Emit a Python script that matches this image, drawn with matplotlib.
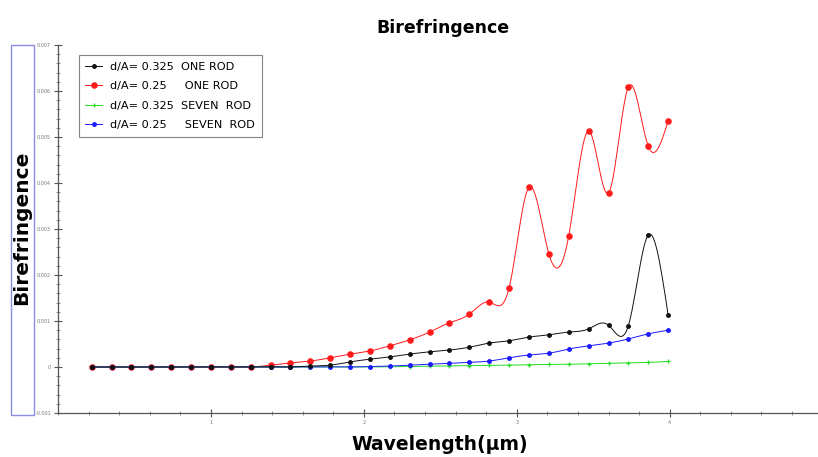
import numpy as np
import matplotlib.pyplot as plt
from matplotlib.patches import Rectangle
from matplotlib.ticker import AutoMinorLocator

# wavelength (um) of the sampled points
wavelength = [0.22, 0.35, 0.48, 0.61, 0.74, 0.87, 1.00, 1.13, 1.26, 1.39,
              1.52, 1.65, 1.78, 1.91, 2.04, 2.17, 2.30, 2.43, 2.56, 2.69,
              2.82, 2.95, 3.08, 3.21, 3.34, 3.47, 3.60, 3.73, 3.86, 3.99]

# birefringence, in units of 1e-3
one_rod_0325 = [0, 0, 0, 0, 0, 0, 0, 0, 0, 0,
                0, 0.02, 0.04, 0.11, 0.17, 0.22, 0.28, 0.33, 0.37, 0.43,
                0.52, 0.57, 0.65, 0.70, 0.76, 0.83, 0.91, 0.90, 2.87, 1.13]
one_rod_025 = [0, 0, 0, 0, 0, 0, 0, 0, 0, 0.04,
               0.09, 0.13, 0.20, 0.28, 0.35, 0.46, 0.59, 0.76, 0.96, 1.15,
               1.41, 1.72, 3.91, 2.46, 2.85, 5.13, 3.78, 6.09, 4.80, 5.35]
seven_rod_0325 = [0, 0, 0, 0, 0, 0, 0, 0, 0, 0,
                  0, 0, 0, 0, 0, 0.005, 0.01, 0.015, 0.02, 0.03,
                  0.035, 0.04, 0.05, 0.055, 0.06, 0.07, 0.08, 0.09, 0.10, 0.12]
seven_rod_025 = [0, 0, 0, 0, 0, 0, 0, 0, 0, 0,
                 0, 0, 0, 0, 0.01, 0.02, 0.04, 0.06, 0.08, 0.10,
                 0.13, 0.20, 0.26, 0.30, 0.39, 0.46, 0.52, 0.61, 0.72, 0.80]

labels = ['d/A= 0.325  ONE ROD', 'd/A= 0.25     ONE ROD',
          'd/A= 0.325  SEVEN  ROD', 'd/A= 0.25     SEVEN  ROD']


def spline(x, y, n=400):
    # natural cubic spline, only used to draw the smooth connecting line
    x = np.asarray(x, float)
    y = np.asarray(y, float)
    h = np.diff(x)
    m = len(x)
    A = np.zeros((m, m))
    b = np.zeros(m)
    A[0, 0] = A[-1, -1] = 1
    for i in range(1, m - 1):
        A[i, i - 1] = h[i - 1]
        A[i, i] = 2 * (h[i - 1] + h[i])
        A[i, i + 1] = h[i]
        b[i] = 6 * ((y[i + 1] - y[i]) / h[i] - (y[i] - y[i - 1]) / h[i - 1])
    M = np.linalg.solve(A, b)
    xs = np.linspace(x[0], x[-1], n)
    j = np.clip(np.searchsorted(x, xs) - 1, 0, m - 2)
    t0 = x[j + 1] - xs
    t1 = xs - x[j]
    hj = h[j]
    ys = (M[j] * t0 ** 3 + M[j + 1] * t1 ** 3) / (6 * hj) \
        + (y[j] / hj - M[j] * hj / 6) * t0 + (y[j + 1] / hj - M[j + 1] * hj / 6) * t1
    return xs, ys


fig = plt.figure(figsize=(8.18, 4.57), dpi=100)
ax = fig.add_axes([58 / 818, 44 / 457, 760 / 818, 368 / 457])

series = [
    (one_rod_025, '#ff1a1a', 'o', 3.8, labels[1]),
    (seven_rod_0325, '#22dd22', '+', 3.5, labels[2]),
    (seven_rod_025, '#1a1aff', 'o', 2.6, labels[3]),
    (one_rod_0325, '#111111', 'o', 2.6, labels[0]),
]
handles = {}
for vals, col, mk, ms, lab in series:
    xs, ys = spline(wavelength, vals)
    ax.plot(xs, ys, color=col, lw=0.7)
    ax.plot(wavelength, vals, ls='none', marker=mk, color=col, ms=ms, mew=0.9)
    handles[lab] = ax.plot([], [], color=col, lw=0.7, marker=mk, ms=ms, mew=0.9)[0]

ax.set_xlim(0, 4.97)
ax.set_ylim(-1, 7)
ax.xaxis.set_minor_locator(AutoMinorLocator(5))
ax.yaxis.set_minor_locator(AutoMinorLocator(5))
ax.set_xticks([1, 2, 3, 4])
ax.set_xticklabels(['1', '2', '3', '4'])
ax.set_yticks(range(-1, 8))
ax.set_yticklabels(['-0.001', '0', '0.001', '0.002', '0.003', '0.004',
                    '0.005', '0.006', '0.007'])
ax.tick_params(which='major', direction='inout', length=6, width=0.8,
               labelsize=3.5, labelcolor='#777777', color='#555555', pad=2)
ax.tick_params(which='minor', direction='inout', length=3, width=0.6, color='#777777')
for s in ['top', 'right']:
    ax.spines[s].set_visible(False)
for s in ['left', 'bottom']:
    ax.spines[s].set_color('#555555')
    ax.spines[s].set_linewidth(0.9)

leg = ax.legend([handles[l] for l in labels], labels, loc='upper left',
                bbox_to_anchor=(0.027, 0.973), borderaxespad=0, frameon=True,
                fancybox=False, edgecolor='#666666', borderpad=0.6,
                labelspacing=0.85, handlelength=1.5, handletextpad=0.7,
                prop={'family': ['Liberation Sans Narrow', 'DejaVu Sans'], 'size': 8.1})
leg.get_frame().set_linewidth(0.8)

fig.text(443 / 818, 1 - 28 / 457, 'Birefringence', ha='center', va='center',
         fontsize=12.5, fontweight='bold')
fig.text(440 / 818, 1 - 444 / 457, 'Wavelength(µm)', ha='center', va='center',
         fontsize=13.5, fontweight='bold')
fig.text(22 / 818, 1 - 228 / 457, 'Birefringence', ha='center', va='center',
         rotation=90, fontsize=14.5, fontweight='bold')
fig.patches.append(Rectangle((11 / 818, 1 - 415 / 457), 23 / 818, 370 / 457,
                             transform=fig.transFigure, fill=False,
                             edgecolor='#8c8ce6', lw=1))

fig.savefig('out.png', dpi=100)
